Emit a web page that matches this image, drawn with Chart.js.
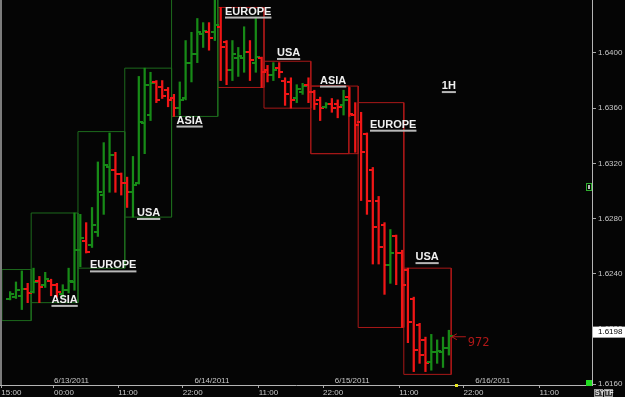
<!DOCTYPE html>
<html>
<head>
<meta charset="utf-8">
<script src="https://cdn.jsdelivr.net/npm/chart.js@4.4.0/dist/chart.umd.min.js"></script>
<style>
  html, body { margin: 0; padding: 0; background: #050505; }
  canvas { display: block; }
</style>
</head>
<body>
<canvas id="fxChart" width="625" height="397"></canvas>
<script>
// 1H bars, hour offsets counted from 6/13/2011 00:00
const barHours = [-8, -7, -6, -5, -4, -3, -2, -1, 0, 1, 2, 3, 4, 5, 6, 7, 8, 9, 10, 11,
    12, 13, 14, 15, 16, 17, 18, 19, 20, 21, 22, 23, 24, 25, 26, 27, 28, 29, 30, 31,
    32, 33, 34, 35, 36, 37, 38, 39, 40, 41, 42, 43, 44, 45, 46, 47, 48, 49, 50, 51,
    52, 53, 54, 55, 56, 57, 58, 59, 60, 61, 62, 63, 64, 65, 66, 67];

const opens = [1.6222, 1.6223, 1.6224, 1.6229, 1.6227, 1.6235, 1.6232, 1.6235, 1.6232, 1.6225,
    1.6228, 1.6234, 1.6257, 1.6264, 1.6261, 1.6270, 1.6297, 1.6317, 1.6315, 1.6312,
    1.6306, 1.6299, 1.6306, 1.6349, 1.6355, 1.6379, 1.6375, 1.6373, 1.6367, 1.6360,
    1.6367, 1.6393, 1.6399, 1.6414, 1.6415, 1.6415, 1.6419, 1.6408, 1.6388, 1.6396,
    1.6396, 1.6401, 1.6393, 1.6396, 1.6388, 1.6384, 1.6389, 1.6380, 1.6379, 1.6367,
    1.6372, 1.6377, 1.6372, 1.6366, 1.6361, 1.6363, 1.6363, 1.6362, 1.6368, 1.6355,
    1.6350, 1.6341, 1.6315, 1.6293, 1.6275, 1.6246, 1.6267, 1.6255, 1.6243, 1.6222,
    1.6203, 1.6192, 1.6176, 1.6183, 1.6183, 1.6186];
const highs = [1.6227, 1.6234, 1.6242, 1.6233, 1.6244, 1.6238, 1.6241, 1.6236, 1.6233, 1.6232,
    1.6244, 1.6284, 1.6283, 1.6277, 1.6288, 1.6321, 1.6335, 1.6342, 1.6328, 1.6313,
    1.6310, 1.6325, 1.6383, 1.6389, 1.6386, 1.6380, 1.6380, 1.6375, 1.6370, 1.6379,
    1.6409, 1.6415, 1.6425, 1.6422, 1.6422, 1.6442, 1.6433, 1.6409, 1.6409, 1.6404,
    1.6419, 1.6409, 1.6426, 1.6397, 1.6391, 1.6393, 1.6393, 1.6382, 1.6382, 1.6377,
    1.6378, 1.6382, 1.6373, 1.6368, 1.6364, 1.6367, 1.6366, 1.6373, 1.6375, 1.6364,
    1.6357, 1.6342, 1.6317, 1.6296, 1.6277, 1.6272, 1.6268, 1.6257, 1.6244, 1.6223,
    1.6204, 1.6194, 1.6196, 1.6192, 1.6194, 1.6199];
const lows = [1.6221, 1.6222, 1.6214, 1.6219, 1.6226, 1.6219, 1.6230, 1.6224, 1.6223, 1.6223,
    1.6226, 1.6228, 1.6245, 1.6255, 1.6259, 1.6267, 1.6283, 1.6299, 1.6299, 1.6297,
    1.6288, 1.6281, 1.6305, 1.6327, 1.6351, 1.6364, 1.6367, 1.6361, 1.6354, 1.6355,
    1.6366, 1.6379, 1.6393, 1.6404, 1.6402, 1.6409, 1.6380, 1.6377, 1.6380, 1.6383,
    1.6386, 1.6380, 1.6386, 1.6375, 1.6379, 1.6380, 1.6382, 1.6362, 1.6360, 1.6364,
    1.6370, 1.6364, 1.6359, 1.6351, 1.6360, 1.6357, 1.6353, 1.6355, 1.6354, 1.6328,
    1.6293, 1.6283, 1.6247, 1.6247, 1.6225, 1.6233, 1.6232, 1.6201, 1.6190, 1.6169,
    1.6175, 1.6169, 1.6170, 1.6175, 1.6172, 1.6181];
const closes = [1.6225, 1.6228, 1.6229, 1.6226, 1.6234, 1.6230, 1.6236, 1.6232, 1.6227, 1.6228,
    1.6235, 1.6257, 1.6266, 1.6256, 1.6275, 1.6299, 1.6319, 1.6326, 1.6312, 1.6306,
    1.6299, 1.6304, 1.6350, 1.6377, 1.6378, 1.6366, 1.6369, 1.6366, 1.6360, 1.6366,
    1.6393, 1.6399, 1.6415, 1.6416, 1.6411, 1.6420, 1.6404, 1.6388, 1.6399, 1.6398,
    1.6401, 1.6395, 1.6397, 1.6386, 1.6384, 1.6388, 1.6386, 1.6370, 1.6366, 1.6374,
    1.6376, 1.6372, 1.6363, 1.6360, 1.6363, 1.6360, 1.6361, 1.6366, 1.6356, 1.6348,
    1.6328, 1.6293, 1.6274, 1.6259, 1.6246, 1.6255, 1.6255, 1.6232, 1.6205, 1.6185,
    1.6181, 1.6175, 1.6183, 1.6184, 1.6186, 1.6195];

// session boxes (hours / prices)
const boxStart = [-8.9, -3.9, 4.1, 12.1, 20.1, 28.0, 35.9, 43.9, 43.9, 52.0, 59.8];
const boxEnd = [-3.9, 4.1, 12.1, 20.1, 28.0, 35.9, 43.9, 52.0, 50.4, 59.8, 67.9];
const boxHigh = [1.6243, 1.6284, 1.6343, 1.6389, 1.6450, 1.6433, 1.6394, 1.6376, 1.6376, 1.6364, 1.6244];
const boxLow = [1.6206, 1.6219, 1.6244, 1.6281, 1.6354, 1.6375, 1.6360, 1.6327, 1.6327, 1.6201, 1.6167];
const boxSide = ["up", "up", "up", "up", "up", "down", "down", "down", "down", "down", "down"];

// session captions
const labelText = ["ASIA", "EUROPE", "USA", "ASIA", "EUROPE", "USA", "ASIA", "EUROPE", "USA", "1H"];
const labelHour = [-0.43, 6.15, 14.19, 20.94, 29.23, 38.12, 45.47, 54.02, 61.8, 66.3];
const labelPrice = [1.6221, 1.6246, 1.6284, 1.6351, 1.6430, 1.6400, 1.6380, 1.6348, 1.6252, 1.6376];

// axes
const xTickHours = [-9, 0, 11, 22, 35, 46, 59, 70, 83];
const xTickLabels = ["15:00", "00:00", "11:00", "22:00", "11:00", "22:00", "11:00", "22:00", "11:00"];
const dateHours = [0, 24, 48, 72];
const dateLabels = ["6/13/2011", "6/14/2011", "6/15/2011", "6/16/2011"];
const yTickValues = [1.6160, 1.6200, 1.6240, 1.6280, 1.6320, 1.6360, 1.6400];
const currentPrice = 1.6198;
const countdown = "972";

const UP = "#178a17";
const DOWN = "#f01616";
const AXIS_FONT = '8px "Liberation Sans Narrow", "Liberation Sans", Arial, sans-serif';

Chart.defaults.font.family = '"Liberation Sans Narrow", "Liberation Sans", Arial, sans-serif';
Chart.defaults.font.size = 8;

// open tick on the left, close tick on the right
function tickMark(color, side) {
    const cv = document.createElement("canvas");
    cv.width = 8;
    cv.height = 2;
    const g = cv.getContext("2d");
    g.fillStyle = color;
    g.fillRect(side === "open" ? 0 : 4, 0, 4, 2);
    return cv;
}
const openUp = tickMark(UP, "open");
const openDown = tickMark(DOWN, "open");
const closeUp = tickMark(UP, "close");
const closeDown = tickMark(DOWN, "close");

const isUp = closes.map((c, i) => c >= opens[i]);

const boxDatasets = boxStart.map((s, i) => ({
    type: "scatter",
    showLine: true,
    data: [
        { x: s, y: boxHigh[i] },
        { x: boxEnd[i], y: boxHigh[i] },
        { x: boxEnd[i], y: boxLow[i] },
        { x: s, y: boxLow[i] },
        { x: s, y: boxHigh[i] },
    ],
    borderColor: boxSide[i] === "up" ? "#1d6a1d" : "#a81818",
    borderWidth: 1,
    pointRadius: 0,
    fill: false,
}));

const overlay = {
    id: "overlay",
    beforeDraw(chart) {
        const c = chart.ctx;
        c.save();
        c.fillStyle = "#050505";
        c.fillRect(0, 0, chart.width, chart.height);
        c.restore();
    },
    afterDatasetsDraw(chart) {
        const { ctx: c, scales: { x, y } } = chart;
        c.save();
        c.fillStyle = "#7c7c7c";
        c.fillRect(0, 0, 2, y.bottom);

        // session captions
        c.font = 'bold 11px "Liberation Sans", Arial, sans-serif';
        c.textBaseline = "middle";
        c.textAlign = "left";
        labelText.forEach((t, i) => {
            const px = x.getPixelForValue(labelHour[i]);
            const py = y.getPixelForValue(labelPrice[i]);
            const w = c.measureText(t).width;
            c.fillStyle = "#f0f0f0";
            c.fillText(t, px, py);
            c.fillStyle = "#b8b8b8";
            c.fillRect(px, py + 5, w, 2);
        });

        // dates above the time axis
        c.font = AXIS_FONT;
        c.textBaseline = "alphabetic";
        c.fillStyle = "#c8c8c8";
        dateHours.forEach((h, i) => {
            c.fillText(dateLabels[i], x.getPixelForValue(h), y.bottom - 2);
        });

        // last price arrow + bar countdown
        const last = barHours.length - 1;
        const ax = x.getPixelForValue(barHours[last] + 0.5) + 3;
        const ay = y.getPixelForValue(closes[last]) + 1;
        c.strokeStyle = "#b01818";
        c.lineWidth = 1;
        c.beginPath();
        c.moveTo(ax, ay); c.lineTo(ax + 14, ay);
        c.moveTo(ax, ay); c.lineTo(ax + 5, ay - 3);
        c.moveTo(ax, ay); c.lineTo(ax + 5, ay + 3);
        c.stroke();
        c.font = '12px "DejaVu Sans Mono", monospace';
        c.fillStyle = "#b01818";
        c.textBaseline = "middle";
        c.fillText(countdown, ax + 16, ay + 6);
        c.restore();
    },
    afterDraw(chart) {
        const { ctx: c, scales: { y }, chartArea: a } = chart;
        c.save();
        // current price tag on the price axis
        const py = y.getPixelForValue(currentPrice);
        c.fillStyle = "#ffffff";
        c.fillRect(a.right + 1, py - 5, chart.width - a.right - 1, 11);
        c.fillStyle = "#000000";
        c.font = AXIS_FONT;
        c.textBaseline = "middle";
        c.fillText(currentPrice.toFixed(4), a.right + 6, py + 0.5);

        // small widgets at the right edge
        c.strokeStyle = "#2fae2f";
        c.strokeRect(586.5, 183.5, 5, 7);
        c.fillStyle = "#bbbbbb";
        c.fillRect(588, 185, 2, 4);
        c.fillStyle = "#22dd22";
        c.fillRect(586, 380, 6, 6);
        c.fillStyle = "#e6e61e";
        c.fillRect(455, 384, 3, 3);
        c.font = 'bold 7px "Liberation Sans", Arial, sans-serif';
        [["SY", 594], ["TF", 604]].forEach(([t, bx]) => {
            c.fillStyle = "#3a3a3a";
            c.fillRect(bx, 389, 9, 8);
            c.strokeStyle = "#9a9a9a";
            c.strokeRect(bx + 0.5, 389.5, 8, 7);
            c.fillStyle = "#e8e8e8";
            c.textBaseline = "middle";
            c.fillText(t, bx + 1, 393.5);
        });
        c.restore();
    },
};

const ctx = document.getElementById("fxChart").getContext("2d");
const fxChart = new Chart(ctx, {
    type: "bar",
    data: {
        datasets: [
            {
                type: "bar",
                data: barHours.map((h, i) => ({ x: h + 0.5, y: [lows[i], highs[i]] })),
                backgroundColor: isUp.map((u) => (u ? UP : DOWN)),
                barThickness: 1.6,
                borderWidth: 0,
                grouped: false,
            },
            {
                type: "scatter",
                data: barHours.map((h, i) => ({ x: h + 0.5, y: opens[i] })),
                pointStyle: isUp.map((u) => (u ? openUp : openDown)),
                pointRadius: 3,
            },
            {
                type: "scatter",
                data: barHours.map((h, i) => ({ x: h + 0.5, y: closes[i] })),
                pointStyle: isUp.map((u) => (u ? closeUp : closeDown)),
                pointRadius: 3,
            },
            ...boxDatasets,
        ],
    },
    options: {
        responsive: false,
        maintainAspectRatio: false,
        animation: false,
        events: [],
        layout: { padding: 0, autoPadding: false },
        plugins: { legend: { display: false }, tooltip: { enabled: false } },
        scales: {
            x: {
                type: "linear",
                position: "bottom",
                offset: false,
                min: -9.23,
                max: 91.97,
                afterBuildTicks: (axis) => {
                    axis.ticks = xTickHours.map((v) => ({ value: v }));
                },
                afterFit: (axis) => {
                    axis.height = 12;
                    axis.paddingLeft = 0;
                    axis.paddingRight = 0;
                },
                ticks: {
                    autoSkip: false,
                    maxRotation: 0,
                    align: "start",
                    padding: 0,
                    color: "#c8c8c8",
                    callback: (v, i) => xTickLabels[i],
                },
                grid: { offset: false, drawOnChartArea: false, tickLength: 3, color: "#a8a8a8" },
                border: { color: "#b4b4b4" },
            },
            y: {
                type: "linear",
                position: "right",
                min: 1.61593,
                max: 1.64384,
                afterBuildTicks: (axis) => {
                    axis.ticks = yTickValues.map((v) => ({ value: v }));
                },
                afterFit: (axis) => {
                    axis.width = 33;
                    axis.paddingTop = 0;
                    axis.paddingBottom = 0;
                },
                ticks: {
                    padding: 2,
                    color: "#c8c8c8",
                    callback: (v) => v.toFixed(4),
                },
                grid: { drawOnChartArea: false, tickLength: 4, color: "#a8a8a8" },
                border: { color: "#b4b4b4" },
            },
        },
    },
    plugins: [overlay],
});
</script>
</body>
</html>
